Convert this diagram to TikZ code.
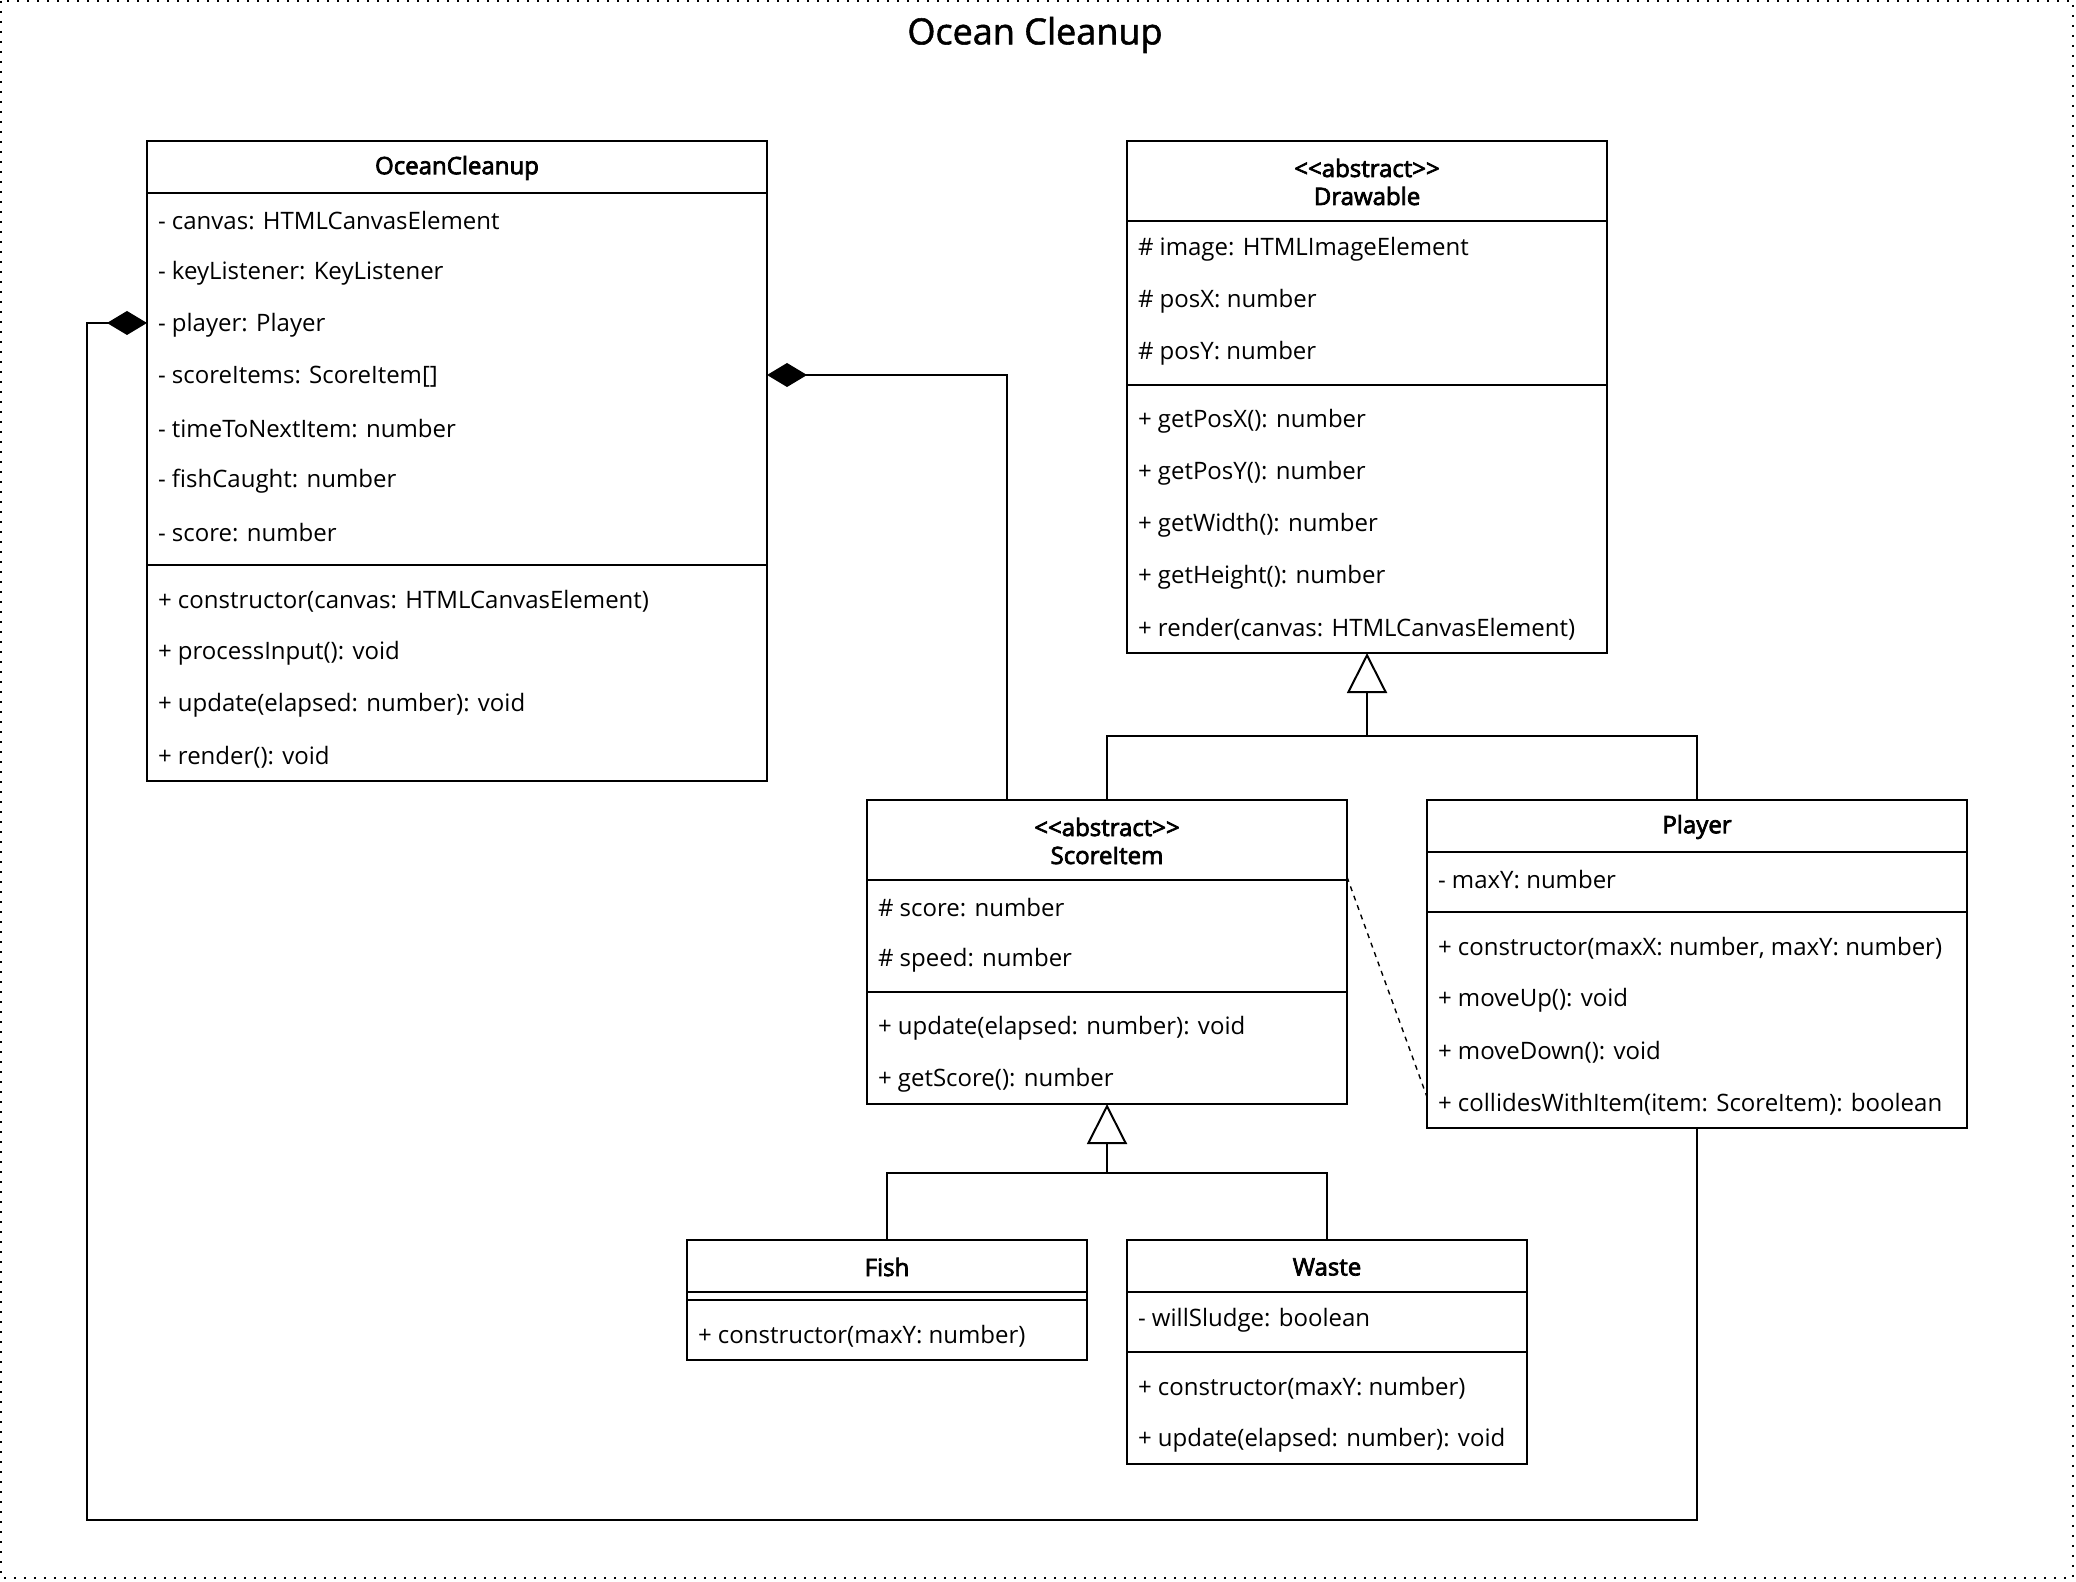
\documentclass[tikz,border=0pt]{standalone}
\usepackage{fontspec}
\setmainfont{Open Sans}
\newfontfamily\hdrfont{Open Sans}[FakeBold=3]
\newfontfamily\ttlfont{Open Sans}[FakeBold=1.5]
\usetikzlibrary{arrows.meta,calc}

\newcommand\umlclass[8]{% name, left, top, width, header height, nattr, nmeth, header text
  \pgfmathsetmacro\clsH{#5+26*#6+8+26*#7}
  \node[clsbox, minimum width=#4pt, minimum height=\clsH pt] (#1) at (#2,#3) {};
  \node[clshdr] (#1-h) at (#2+#4/2,#3+#5/2+0.5) {#8};
  \draw (#2,#3+#5) -- ++(#4,0);
  \draw (#2,#3+#5+26*#6+4) -- ++(#4,0);
}
\newcommand\umlrows[5]{% name, left, y0, prefix, list
  \foreach \t [count=\i] in {#5} {
    \node[clsrow] (#1-#4\i) at (#2+5,#3+26*\i-12) {\t};
  }
}

\begin{document}
\begin{tikzpicture}[x=1pt,y=-1pt, line width=1pt,
  clsbox/.style={draw, line width=1pt, anchor=north west, inner sep=0pt, outer sep=0pt},
  clsrow/.style={anchor=west, inner sep=0pt, font=\fontsize{12}{14}\selectfont},
  clshdr/.style={align=center, inner sep=0pt, font=\hdrfont\fontsize{12}{14}\selectfont},
  comp/.style={-{Diamond[length=20pt,width=12pt,fill=black]}},
  inh/.style={-{Triangle[open,length=20pt,width=20pt,fill=white]}},
  dep/.style={line width=0.7pt, dash pattern=on 2.5pt off 2.5pt},
]
\useasboundingbox (0,0) rectangle (1038,791);
\draw[line width=1pt, dash pattern=on 1pt off 4pt] (0.5,0.5) rectangle (1036.5,789);

\node[font=\ttlfont\fontsize{18}{22}\selectfont] (title) at (517.5,17.5) {Ocean Cleanup};

% OceanCleanup
\umlclass{oc}{73.5}{70.5}{310}{26}{7}{4}{OceanCleanup}
\umlrows{oc}{73.5}{96.5}{a}{- canvas: HTMLCanvasElement, - keyListener: KeyListener, - player: Player, - scoreItems: ScoreItem[], - timeToNextItem: number, - fishCaught: number, - score: number}
\umlrows{oc}{73.5}{286.5}{m}{+ constructor(canvas: HTMLCanvasElement), + processInput(): void, + update(elapsed: number): void, + render(): void}

% Drawable
\umlclass{dr}{563.5}{70.5}{240}{40}{3}{5}{<{}<abstract>{}>\\Drawable}
\umlrows{dr}{563.5}{110.5}{a}{\# image: HTMLImageElement, \# posX: number, \# posY: number}
\umlrows{dr}{563.5}{196.5}{m}{+ getPosX(): number, + getPosY(): number, + getWidth(): number, + getHeight(): number, + render(canvas: HTMLCanvasElement)}

% ScoreItem
\umlclass{si}{433.5}{400}{240}{40}{2}{2}{<{}<abstract>{}>\\ScoreItem}
\umlrows{si}{433.5}{440}{a}{\# score: number, \# speed: number}
\umlrows{si}{433.5}{500}{m}{+ update(elapsed: number): void, + getScore(): number}

% Player
\umlclass{pl}{713.5}{400}{270}{26}{1}{4}{Player}
\umlrows{pl}{713.5}{426}{a}{- maxY: number}
\umlrows{pl}{713.5}{460}{m}{{+ constructor(maxX: number, maxY: number)}, + moveUp(): void, + moveDown(): void, + collidesWithItem(item: ScoreItem): boolean}

% Fish
\umlclass{fi}{343.5}{620}{200}{26}{0}{1}{Fish}
\umlrows{fi}{343.5}{654}{m}{+ constructor(maxY: number)}

% Waste
\umlclass{wa}{563.5}{620}{200}{26}{1}{2}{Waste}
\umlrows{wa}{563.5}{646}{a}{- willSludge: boolean}
\umlrows{wa}{563.5}{680}{m}{+ constructor(maxY: number), + update(elapsed: number): void}

% junctions
\coordinate (j1) at (683.5,368);
\coordinate (j2) at (553.5,586.5);
\coordinate (c1) at (43.5,760);

% inheritance
\draw[inh] (si.north) |- (j1) -- (dr.south);
\draw (pl.north) |- (j1);
\draw[inh] (fi.north) |- (j2) -- (si.south);
\draw (wa.north) |- (j2);

% composition
\draw[comp] (pl.south) |- (c1) |- ([yshift=1pt]oc.west |- oc-a3);
\draw[comp] ([xshift=70pt]si.north west) |- ([yshift=1pt]oc.east |- oc-a4);

% dependency
\coordinate (d1) at ($(si.north east)+(0,38.5)$);
\coordinate (d2) at ($(pl.north west)+(0,148.5)$);
\draw[dep] (d1) -- (d2);
\end{tikzpicture}
\end{document}
